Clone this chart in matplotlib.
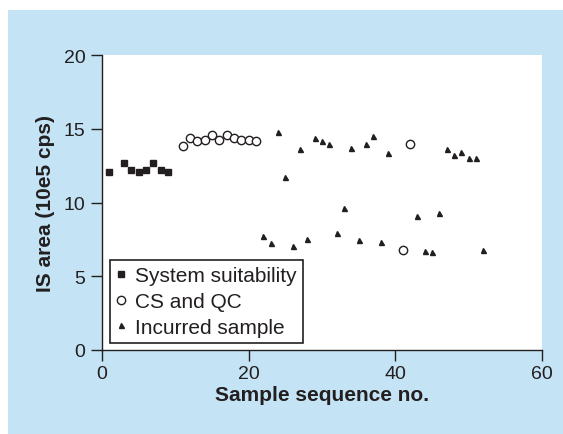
import matplotlib
matplotlib.use('Agg')
import matplotlib.pyplot as plt
from matplotlib.patches import Rectangle

# System suitability injections
ss_x = [1, 3, 4, 5, 6, 7, 8, 9]
ss_y = [12.1, 12.7, 12.2, 12.1, 12.2, 12.65, 12.2, 12.1]

# Calibration standards and QCs
cs_x = [11, 12, 13, 14, 15, 16, 17, 18, 19, 20, 21, 41, 42]
cs_y = [13.8, 14.35, 14.2, 14.25, 14.6, 14.25, 14.55, 14.35, 14.25, 14.25, 14.2, 6.8, 14.0]

# Incurred samples
is_x = [22, 23, 24, 25, 26, 27, 28, 29, 30, 31, 32, 33, 34, 35, 36, 37, 38, 39,
        43, 44, 45, 46, 47, 48, 49, 50, 51, 52]
is_y = [7.7, 7.25, 14.8, 11.7, 7.05, 13.65, 7.55, 14.35, 14.2, 14.0, 7.9, 9.65,
        13.7, 7.45, 13.95, 14.5, 7.35, 13.35, 9.1, 6.7, 6.65, 9.3, 13.65, 13.25,
        13.4, 13.0, 13.0, 6.75]

dark = '#231f20'
blue = '#c4e4f5'

plt.rcParams['font.family'] = ['Liberation Sans', 'DejaVu Sans']

fig = plt.figure(figsize=(5.63, 4.35), dpi=100)
fig.patch.set_facecolor('white')
# light blue panel behind the chart (white strip on top and left)
fig.patches.append(Rectangle((8 / 563, 0), 1, (435 - 11) / 435,
                             transform=fig.transFigure, facecolor=blue,
                             edgecolor='none', zorder=-10))

ax = fig.add_axes([102 / 563, 84 / 435, 440 / 563, 295 / 435])
ax.set_facecolor('white')

ax.plot(ss_x, ss_y, 's', color=dark, markersize=4.5, linestyle='none',
        label='System suitability')
ax.plot(cs_x, cs_y, 'o', markerfacecolor='white', markeredgecolor=dark,
        markeredgewidth=1.0, markersize=6.0, linestyle='none', label='CS and QC')
ax.plot(is_x, is_y, '^', color=dark, markersize=3.6, linestyle='none',
        label='Incurred sample')

ax.set_xlim(0, 60)
ax.set_ylim(0, 20)
ax.set_xticks([0, 20, 40, 60])
ax.set_yticks([0, 5, 10, 15, 20])

for side in ['top', 'right']:
    ax.spines[side].set_visible(False)
for side in ['left', 'bottom']:
    ax.spines[side].set_color(dark)
    ax.spines[side].set_linewidth(1.0)
ax.tick_params(axis='both', direction='out', length=8, width=1.0, color=dark,
               labelcolor=dark, labelsize=14)
ax.tick_params(axis='y', pad=4)
ax.tick_params(axis='x', pad=3)

ax.set_xlabel('Sample sequence no.', fontsize=15, fontweight='bold', color=dark,
              labelpad=2)
ax.set_ylabel('IS area (10e5 cps)', fontsize=15, fontweight='bold', color=dark,
              labelpad=6)

leg = ax.legend(loc='lower left', bbox_to_anchor=(8 / 440, 7 / 295),
                borderaxespad=0, fontsize=15, numpoints=1, handlelength=0.5,
                handletextpad=0.4, borderpad=0.3, labelspacing=0.33,
                fancybox=False, framealpha=1, edgecolor=dark)
leg.get_frame().set_linewidth(1.2)
for t in leg.get_texts():
    t.set_color(dark)

fig.savefig('out.png', dpi=100, facecolor=fig.get_facecolor())
